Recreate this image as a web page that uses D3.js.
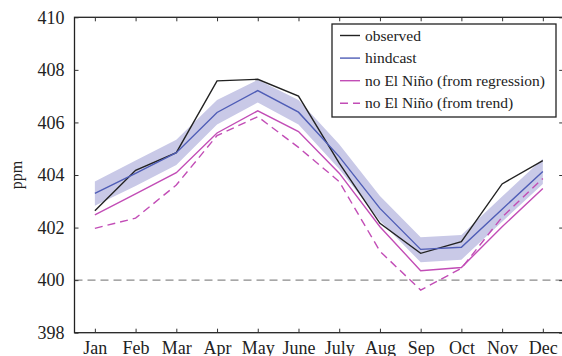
<!DOCTYPE html>
<html><head><meta charset="utf-8">
<script src="https://cdn.jsdelivr.net/npm/d3@7"></script>
<style>body{margin:0;background:#fff}svg{display:block}text{font-family:"Liberation Serif","Times New Roman",serif;fill:#222}</style>
</head><body>
<svg id="c" width="562" height="356"></svg>
<script>
const months = ["Jan","Feb","Mar","Apr","May","June","July","Aug","Sep","Oct","Nov","Dec"];
const observed   = [402.64,404.18,404.85,407.58,407.64,407.00,404.45,402.16,401.02,401.46,403.66,404.55];
const hindcast   = [403.30,404.06,404.85,406.38,407.21,406.39,404.70,402.73,401.17,401.25,402.70,404.13];
const bandUpper  = [403.75,404.55,405.34,406.85,407.62,406.85,405.17,403.20,401.63,401.72,403.18,404.62];
const bandLower  = [402.83,403.58,404.38,405.92,406.76,405.92,404.23,402.26,400.68,400.78,402.22,403.66];
const regression = [402.48,403.28,404.09,405.60,406.44,405.65,404.07,402.03,400.36,400.48,402.03,403.49];
const trend      = [401.97,402.36,403.62,405.50,406.22,405.05,403.75,401.10,399.62,400.45,402.40,403.87];
const yTicks = [398,400,402,404,406,408,410];
const legendLabels = ["observed","hindcast","no El Niño (from regression)","no El Niño (from trend)"];

const svg = d3.select("#c");
const L = 74.5, R = 563.2, T = 17.3, B = 332.7;
const x = d3.scalePoint().domain(months).range([L, R]).padding(0.5);
const y = d3.scaleLinear().domain([398, 410]).range([B, T]);

// band
const area = d3.area().x((d,i)=>x(months[i])).y0((d,i)=>y(bandLower[i])).y1(d=>y(d));
svg.append("path").datum(bandUpper).attr("d", area).attr("fill", "#c9c9e7");

// 400 reference
svg.append("line").attr("x1", L).attr("x2", R).attr("y1", y(400)).attr("y2", y(400))
  .attr("stroke", "#8a8a8a").attr("stroke-width", 1.3).attr("stroke-dasharray", "8,5");

const line = d3.line().x((d,i)=>x(months[i])).y(d=>y(d));
const series = [
  {v: observed, c: "#222222", dash: null},
  {v: hindcast, c: "#4f5db6", dash: null},
  {v: regression, c: "#c24db6", dash: null},
  {v: trend, c: "#c24db6", dash: "8,5"}
];
series.forEach(s => {
  svg.append("path").datum(s.v).attr("d", line).attr("fill", "none")
    .attr("stroke", s.c).attr("stroke-width", 1.4)
    .attr("stroke-dasharray", s.dash);
});

// frame
svg.append("rect").attr("x", L).attr("y", T).attr("width", R - L).attr("height", B - T)
  .attr("fill", "none").attr("stroke", "#222").attr("stroke-width", 1.3);

// axes
const ax = svg.append("g");
const yAxis = ax.append("g").attr("transform", `translate(${L},0)`)
  .call(d3.axisLeft(y).tickValues(yTicks).tickSize(-4).tickPadding(10).tickFormat(d3.format("d")));
const yAxisR = ax.append("g").attr("transform", `translate(${R},0)`)
  .call(d3.axisRight(y).tickValues(yTicks).tickSize(-4).tickFormat(""));
const xAxis = ax.append("g").attr("transform", `translate(0,${B})`)
  .call(d3.axisBottom(x).tickSize(-4).tickPadding(9));
const xAxisT = ax.append("g").attr("transform", `translate(0,${T})`)
  .call(d3.axisTop(x).tickSize(-4).tickFormat(""));
ax.selectAll(".domain").remove();
ax.selectAll(".tick line").attr("stroke", "#333").attr("stroke-width", 1);
yAxis.selectAll("text").attr("font-size", 18).attr("fill", "#222").attr("font-family", "Liberation Serif");
xAxis.selectAll("text").attr("font-size", 18).attr("fill", "#222").attr("font-family", "Liberation Serif");

svg.append("text").attr("transform", `translate(22,${(T+B)/2}) rotate(-90)`)
  .attr("text-anchor", "middle").attr("font-size", 16).text("ppm");

// legend
const lg = svg.append("g");
lg.append("rect").attr("x", 332).attr("y", 24).attr("width", 224).attr("height", 93)
  .attr("fill", "#fff").attr("stroke", "#222").attr("stroke-width", 1.3);
legendLabels.forEach((t, i) => {
  const yy = 35.5 + i * 22.6;
  lg.append("line").attr("x1", 340).attr("x2", 360).attr("y1", yy).attr("y2", yy)
    .attr("stroke", series[i].c).attr("stroke-width", 1.4).attr("stroke-dasharray", series[i].dash);
  lg.append("text").attr("x", 365).attr("y", yy + 5).attr("font-size", 15.5).text(t);
});
</script>
</body></html>
